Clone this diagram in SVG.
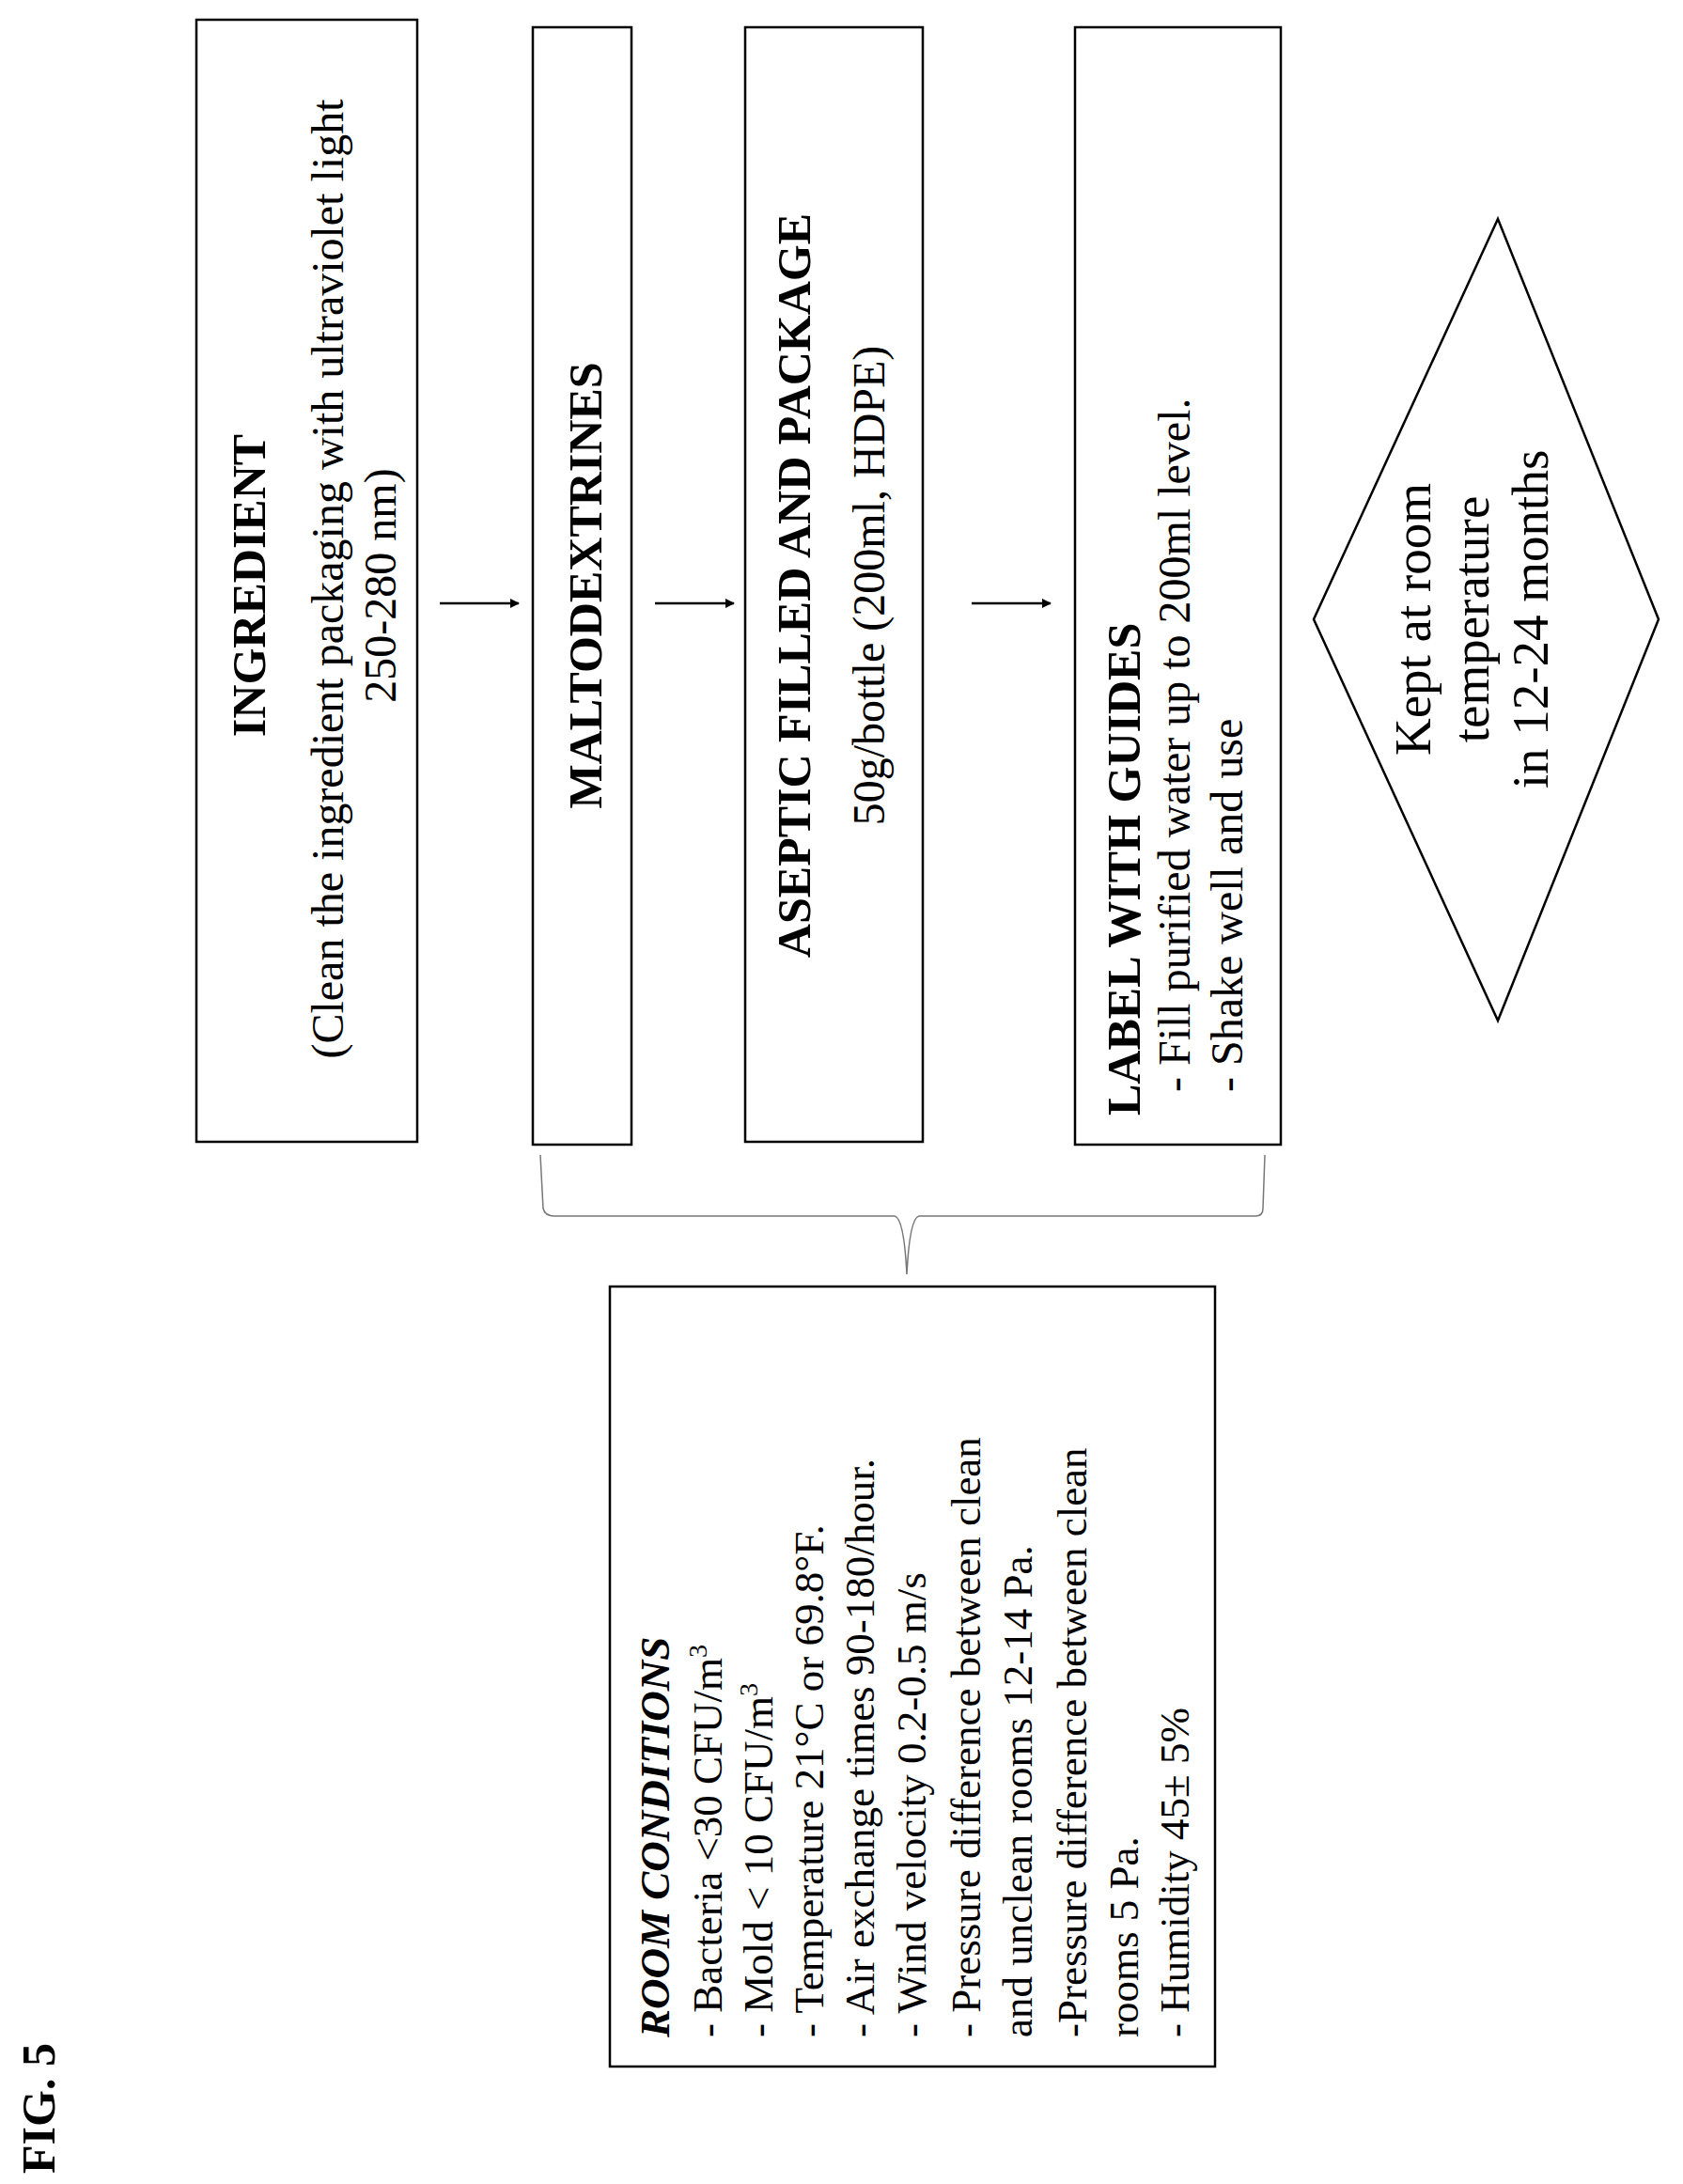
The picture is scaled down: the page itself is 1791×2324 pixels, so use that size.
<svg xmlns="http://www.w3.org/2000/svg" width="1791" height="2324" viewBox="0 0 1791 2324">
<style>
.b{fill:#fff;stroke:#000;stroke-width:2.5}
text{font-family:"Liberation Serif","DejaVu Serif",serif;font-size:48px;fill:#000}
.t{font-weight:bold;font-size:50px}
.m{text-anchor:middle}
.r{font-size:45px}
.k{font-size:55px}
.c{stroke:#000;stroke-width:2.5;fill:none}
</style>
<defs><marker id="ah" markerWidth="10" markerHeight="10" refX="9" refY="5" orient="auto" markerUnits="userSpaceOnUse" viewBox="0 0 10 10"><path d="M0,0L10,5L0,10z"/></marker></defs>
<g id="connectors">
<line class="c" x1="468" y1="642" x2="552" y2="642" marker-end="url(#ah)"/>
<line class="c" x1="697" y1="642" x2="781" y2="642" marker-end="url(#ah)"/>
<line class="c" x1="1034" y1="642" x2="1118" y2="642" marker-end="url(#ah)"/>
<path d="M575,1229 L578,1286 Q580,1294 590,1294 L952,1294 Q962,1296 965,1356 Q968,1296 978,1294 L1336,1294 Q1344,1294 1344,1286 L1346,1229" fill="none" stroke="#777" stroke-width="1.5"/>
</g>
<g id="ingredient">
<rect class="b" x="209" y="21" width="235" height="1194"/>
<text class="t m" transform="translate(282,623) rotate(-90)">INGREDIENT</text>
<text class="m" transform="translate(365,616) rotate(-90)">(Clean the ingredient packaging with ultraviolet light</text>
<text class="m" transform="translate(421,623) rotate(-90)">250-280 nm)</text>
</g>
<g id="maltodextrines">
<rect class="b" x="567" y="29" width="105" height="1189"/>
<text class="t m" transform="translate(640,623) rotate(-90)">MALTODEXTRINES</text>
</g>
<g id="aseptic">
<rect class="b" x="793" y="29" width="189" height="1186"/>
<text class="t m" transform="translate(862,623) rotate(-90)">ASEPTIC FILLED AND PACKAGE</text>
<text class="m" transform="translate(941,623) rotate(-90)">50g/bottle (200ml, HDPE)</text>
</g>
<g id="label">
<rect class="b" x="1144" y="29" width="219" height="1189"/>
<text class="t" transform="translate(1213,1187) rotate(-90)">LABEL WITH GUIDES</text>
<text transform="translate(1266,1162) rotate(-90)">- Fill purified water up to 200ml level.</text>
<text transform="translate(1322,1162) rotate(-90)">- Shake well and use</text>
</g>
<g id="kept">
<polygon class="b" points="1594,233 1765,659 1594,1086 1398,659" stroke-width="2"/>
<text class="m k" transform="translate(1522,659) rotate(-90)">Kept at room</text>
<text class="m k" transform="translate(1584,659) rotate(-90)">temperature</text>
<text class="m k" transform="translate(1647,659) rotate(-90)">in 12-24 months</text>
</g>
<g id="room">
<rect class="b" x="649" y="1369" width="644" height="830"/>
<text class="r" transform="translate(712,2168) rotate(-90)" style="font-weight:bold;font-style:italic">ROOM CONDITIONS</text>
<text class="r" transform="translate(768,2168) rotate(-90)">- Bacteria &lt;30 CFU/m<tspan dy="-16" font-size="28">3</tspan></text>
<text class="r" transform="translate(822,2168) rotate(-90)">- Mold &lt; 10 CFU/m<tspan dy="-16" font-size="28">3</tspan></text>
<text class="r" transform="translate(876,2168) rotate(-90)">- Temperature 21°C or 69.8°F.</text>
<text class="r" transform="translate(930,2168) rotate(-90)">- Air exchange times 90-180/hour.</text>
<text class="r" transform="translate(985,2168) rotate(-90)">- Wind velocity 0.2-0.5 m/s</text>
<text class="r" transform="translate(1043,2168) rotate(-90)">- Pressure difference between clean</text>
<text class="r" transform="translate(1098,2168) rotate(-90)">and unclean rooms 12-14 Pa.</text>
<text class="r" transform="translate(1156,2168) rotate(-90)">-Pressure difference between clean</text>
<text class="r" transform="translate(1211,2168) rotate(-90)">rooms 5 Pa.</text>
<text class="r" transform="translate(1265,2168) rotate(-90)">- Humidity 45± 5%</text>
</g>
<g id="fig"><text class="t" transform="translate(58,2313) rotate(-90)">FIG. 5</text></g>
</svg>
